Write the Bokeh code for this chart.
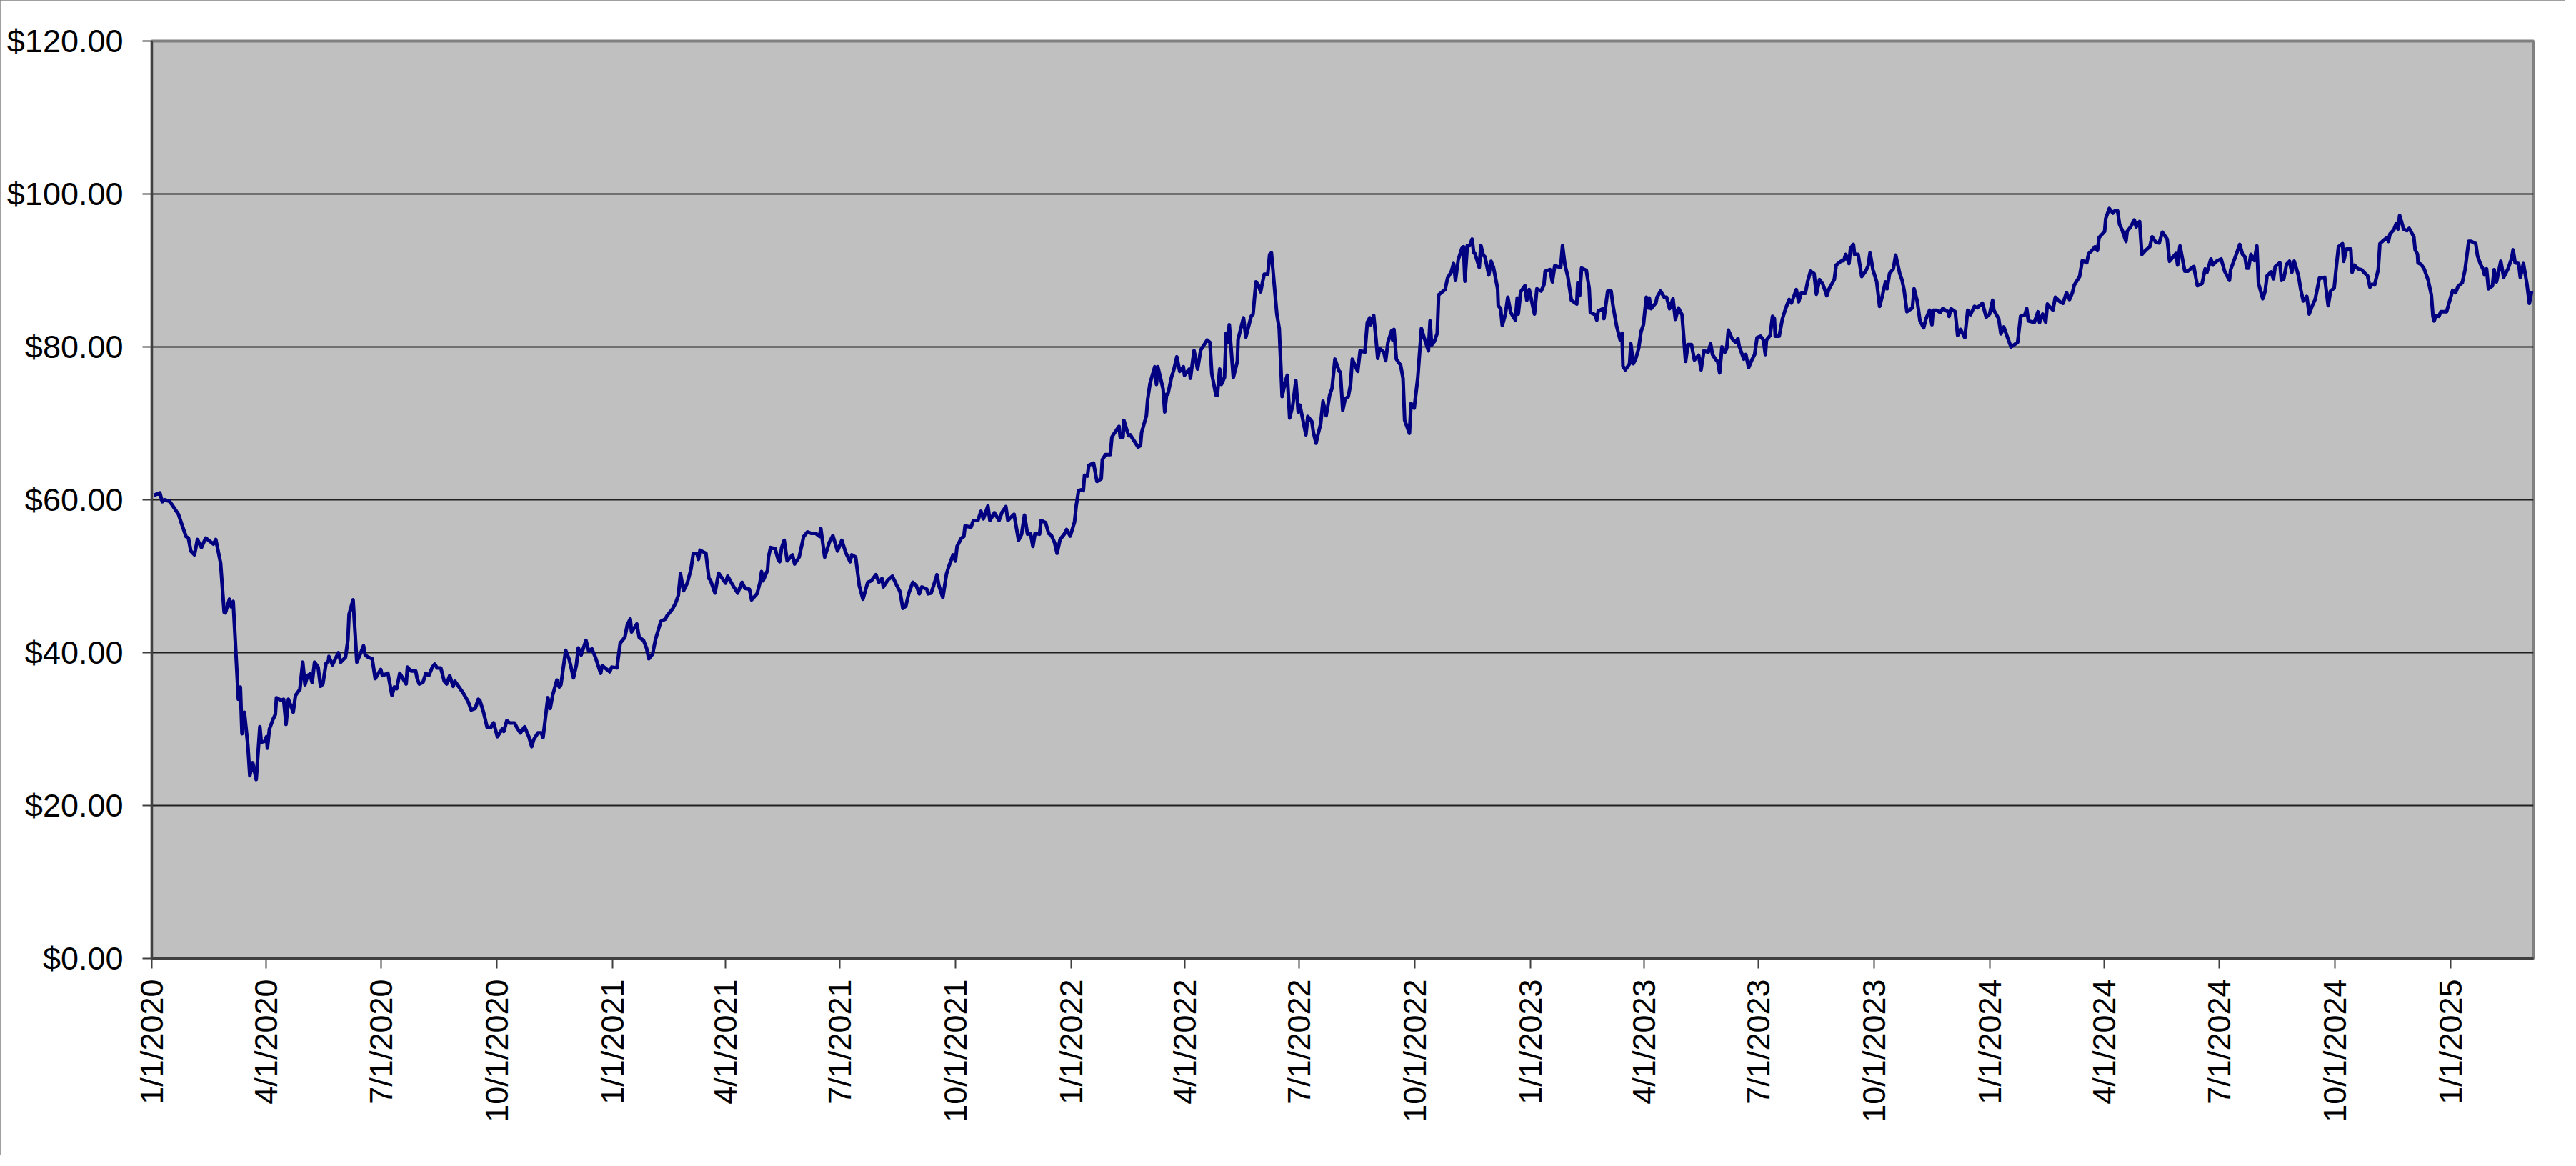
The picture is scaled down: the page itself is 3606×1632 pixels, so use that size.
import math
import pandas as pd
from bokeh.plotting import figure
from bokeh.models import FixedTicker, NumeralTickFormatter, Range1d, ColumnDataSource
from bokeh.embed import file_html
from bokeh.resources import INLINE

# ---------------- data (day offset from START, price in $) ----------------
START = "2020-01-01"
END_DAY = 1893

prices_2020_h1 = [
    (1.7, 60.6), (6.4, 60.9), (8.3, 59.75), (10.2, 60), (14, 59.8), (15.9, 59.4), (21.2, 58.1),
    (23.4, 57), (27.2, 55.2), (29.1, 55), (31, 53.3), (33.9, 52.8), (36.3, 54.8), (39.5, 53.75),
    (42.8, 55), (49, 54.2), (50.9, 54.8), (54.7, 51.7), (57.5, 45.3), (58.5, 45.2), (61.7, 47),
    (63, 46), (64.7, 46.7), (68.8, 33.9), (70.4, 35.5), (71.7, 29.4), (73.6, 32.2), (76.4, 27.8),
    (77.9, 23.9), (80.2, 25.6), (83, 23.4), (85.9, 30.3), (87, 28.3), (89.7, 28.4), (91.2, 29),
    (91.9, 27.5), (93.5, 30), (96.3, 31.25), (98.2, 31.9), (99.1, 34.1), (102.9, 33.75),
    (104.8, 33.9), (106.7, 30.6), (108.6, 33.9), (112.4, 32.2), (114.2, 34.4), (117.7, 35.2),
    (120, 38.75), (121.8, 35.8), (123.8, 37), (125.6, 37.2), (127.5, 36.1), (129.4, 38.75),
    (132.2, 38.1), (134.1, 35.6), (136, 35.9), (138.5, 38.6), (140.4, 38.9), (140.8, 39.5),
    (143.6, 38.4), (148.3, 40), (150.2, 38.75), (154, 39.4), (155.9, 41.7), (156.8, 45),
    (160, 46.9), (163, 38.75), (165.7, 39.8), (168.3, 40.9), (169.6, 39.7), (172, 39.4),
    (175.2, 39.2),
]

prices_2020_h2 = [
    (177.6, 36.6), (182, 37.8), (183.3, 37), (187.7, 37.3), (190.9, 34.4), (192.8, 35.5),
    (194.7, 35.3), (197.1, 37.3), (202.2, 35.9), (203.2, 38.1), (206, 37.6), (209.8, 37.6),
    (210.8, 36.7), (212.6, 35.9), (215.5, 36.1), (217.9, 37.3), (220.2, 37), (223, 38.1),
    (224.9, 38.5), (226.8, 38), (229.7, 38), (232.5, 36.25), (234.4, 35.9), (236.8, 37),
    (239.5, 35.6), (241, 36.25), (247.6, 34.7), (251.4, 33.6), (253.9, 32.5), (257.1, 32.7),
    (259.5, 33.9), (260.8, 33.75), (263.7, 32.2), (266.6, 30.2), (269.4, 30.2), (271.7, 30.8),
    (274.7, 29), (278.5, 30), (279.8, 29.7), (282.2, 31.1), (284.5, 30.8), (288.3, 30.8),
    (290.2, 30.2), (293, 29.5), (296.3, 30.3), (299.7, 29), (302, 27.7), (303.5, 28.6),
    (306.9, 29.5), (309.6, 29.5), (311, 28.9), (314.8, 34.1), (316.7, 32.7), (318.6, 34.4),
    (322, 36.4), (323.9, 35.5), (325.2, 35.8), (329, 40.3), (331.8, 39.1), (335.2, 36.7),
    (337.5, 38.4), (339, 40.6), (341.3, 39.7), (345.1, 41.6), (347.3, 40.2), (349.8, 40.5),
    (352.6, 39.4), (356.8, 37.3), (358, 38.3), (364, 37.5), (365.5, 38.1), (369.7, 38),
]

prices_2021 = [
    (372.3, 41.25), (376, 42), (377.9, 43.6), (380.3, 44.4), (381.3, 42.7), (385.5, 43.75),
    (387.4, 42), (390.8, 41.6), (393.2, 40.6), (395, 39.2), (398, 39.8), (400.3, 41.7),
    (404.6, 44.1), (408.2, 44.4), (409.4, 44.8), (414.2, 45.8), (416.6, 46.6), (418.5, 47.5),
    (420.2, 50.3), (422.6, 48.1), (425.6, 49.1), (428.5, 50.9), (430.4, 53), (433.3, 53),
    (434.5, 52.2), (435.7, 53.4), (440.4, 53), (442.8, 49.7), (444, 49.5), (447.6, 47.8),
    (450.5, 50.4), (456, 49.1), (457.7, 50), (462, 48.75), (465.6, 47.8), (469.1, 49.2),
    (471.5, 48.4), (475, 48.3), (476.7, 46.9), (481, 47.7), (483.4, 49.2), (484.6, 50.6),
    (485.8, 49.4), (489.4, 50.8), (490.1, 52.5), (491.8, 53.75), (495.4, 53.6), (497.8, 52.2),
    (499, 51.9), (500.6, 53.75), (502.6, 54.7), (505, 52), (509.2, 52.8), (510.9, 51.6),
    (514.5, 52.5), (518.1, 55.2), (521.2, 55.8), (524, 55.6), (527.6, 55.6), (530.7, 55.2),
    (531.7, 56.25), (534.8, 52.5), (538.4, 54.4), (541.3, 55.3), (545, 53.3), (548.4, 54.7),
    (551.5, 53.1), (555, 51.9), (556.3, 52.8), (559.4, 52.5), (562.3, 48.75), (565.2, 47),
    (569, 49.2), (571.8, 49.4), (575.5, 50.2), (577.9, 49.2), (580.3, 49.7), (581.4, 48.6),
    (585, 49.5), (588.6, 50), (592.2, 48.75), (594.6, 48), (596.9, 45.8), (599.3, 46.1),
    (601.7, 47.8), (604.8, 49.2), (607.6, 48.75), (610, 47.7), (612, 48.6), (616, 48.3),
    (617, 47.7), (619.4, 47.8), (622, 49.1), (624, 50.2), (625.6, 48.75), (628.7, 47.2),
    (631.6, 50.3), (633.4, 51.25), (636.8, 52.8), (638.7, 52), (640, 53.9), (643.5, 55),
    (645.4, 55.2), (646.4, 56.6), (651, 56.4), (653, 57.3), (656.6, 57.3), (659, 58.5),
    (660.9, 57.5), (664.5, 59.2), (666.1, 57.3), (669.7, 58.3), (673.4, 57.3), (675.8, 58.4),
    (678.8, 59.1), (680.4, 57.3), (685.3, 58.1), (688.9, 54.7), (691.3, 55.5), (693.6, 58),
    (696, 55.5), (698.4, 55.6), (700.3, 53.9), (702, 55.6), (705.6, 55.5), (706.8, 57.3),
    (710.4, 57), (712.8, 55.6), (715.1, 55.3), (717.5, 54.4), (719.5, 53), (721.9, 54.8),
    (725.2, 55.5), (727.1, 56.1),
]

prices_2022 = [
    (730, 55.25), (733.4, 57.1), (734.7, 59.2), (736.6, 61.2), (738.5, 61.3), (740.4, 61.2),
    (741.3, 63.2), (743.6, 63.1), (744.7, 64.5), (748.5, 64.8), (751.2, 62.4), (754.6, 62.75),
    (755.5, 65.25), (758, 65.9), (761.8, 65.9), (763.1, 68.2), (765, 68.7), (768.8, 69.6),
    (769.7, 68.2), (772, 68.2), (772.6, 70.4), (776.3, 68.4), (777.7, 68.5), (783.9, 66.9),
    (785.8, 67.1), (786.7, 68.8), (790.5, 71), (791.5, 73.1), (793.4, 75.25), (797.2, 77.4),
    (798.5, 75.1), (799.6, 77.4), (803.8, 74.5), (805.1, 71.5), (806.6, 73.8), (807.6, 73.8),
    (810.4, 76), (812.3, 77), (814.7, 78.7), (817, 76.8), (819.9, 77.4), (820.8, 76.3),
    (824.6, 77.1), (825.5, 75.9), (828.4, 79.5), (831.2, 77.1), (833.7, 79.6), (836.9, 80.4),
    (838.8, 80.9), (841, 80.6), (842.5, 76.5), (845.8, 73.7), (846.9, 73.7), (848.8, 77.1),
    (850.1, 75.1), (852.6, 76), (853.9, 81.8), (855.2, 80.6), (856.4, 82.9), (859.6, 76),
    (862.8, 78.1), (863.4, 81), (867.7, 83.8), (869.6, 81.3), (873.8, 84), (875.3, 84.3),
    (877.6, 88.5), (879.4, 88.1), (881.3, 87.2), (882.9, 88.5), (884.2, 89.5), (887, 89.5),
    (888.5, 92.1), (889.9, 92.3), (894.2, 84.3), (896.1, 82.4), (898.4, 73.5), (900.6, 75.25),
    (902.5, 76.3), (904.4, 70.7), (906.9, 72.4), (909.3, 75.6), (911.2, 71.5), (912.5, 72.4),
    (917.3, 68.5), (918.8, 70.9), (922, 70.25), (923.3, 68.8), (925.4, 67.4), (926.7, 68.4),
    (929, 69.9), (930.9, 72.9), (933.4, 71), (936.2, 73.7), (938.1, 74.6), (940.4, 78.4),
    (943.8, 76.8), (944.7, 76.7), (946.6, 71.7), (948.5, 73.2), (951, 73.5), (952.8, 75.1),
    (954.2, 78.4), (958.5, 76.8), (960.4, 79.5), (964.2, 79.3), (966.1, 83.2), (968, 83.8),
    (968.7, 82.9), (971.2, 84.1), (973.1, 80.9), (974.4, 78.5), (975.9, 79.8), (979.3, 79.3),
    (980.7, 78.2), (982.5, 80.6), (985.4, 82.1), (986.3, 80.9), (987.3, 82.3), (989.2, 78.4),
    (992.6, 77.6), (994.5, 75.9), (995.8, 70.4), (999.6, 68.7), (1000.9, 72.6), (1003.4, 72),
    (1006.2, 75.9), (1009.1, 82.4), (1011.9, 80.9), (1014.7, 79.5), (1016, 83.4),
    (1017.2, 80.25), (1019.4, 80.7), (1021.7, 81.8), (1022.8, 86.8),
]

prices_2023 = [
    (1024.2, 87), (1028, 87.5), (1029.9, 89), (1032.8, 89.8), (1034.7, 90.9), (1036.2, 88.7),
    (1038.4, 91.4), (1041.3, 92.9), (1042.6, 93.1), (1043.7, 88.6), (1045.6, 93.25),
    (1047.5, 93.25), (1049.4, 94.1), (1050.7, 92.3), (1051.7, 92.2), (1055.1, 90.4),
    (1056.4, 93.25), (1058.3, 92), (1059.6, 91.8), (1062.7, 89.4), (1064.5, 91.2),
    (1066.4, 90.4), (1069.7, 87.6), (1070.2, 85.4), (1072.1, 85), (1073.4, 82.8),
    (1075.9, 84.3), (1077.8, 86.5), (1080.1, 84.5), (1083.8, 83.5), (1085.3, 86.4),
    (1086.1, 84.3), (1088, 87.2), (1091.4, 88), (1092.9, 86.1), (1094.8, 87.5), (1099, 84.3),
    (1100.9, 87.6), (1104.3, 87.3), (1106.5, 88.1), (1107.5, 89.9), (1111.3, 90.1),
    (1113.2, 88.5), (1115.1, 90.6), (1119.8, 90.4), (1121.3, 93.25), (1123.2, 90.75),
    (1125.5, 89.2), (1128.3, 86.1), (1132.6, 85.6), (1133.4, 88.4), (1134.9, 86.7),
    (1136.4, 90.3), (1140.2, 90), (1142.5, 87.6), (1143.4, 84.5), (1147.2, 84.2),
    (1148.5, 83.5), (1149.7, 84.7), (1153.5, 85), (1154.2, 83.7), (1157.2, 87.3),
    (1159.9, 87.3), (1161.4, 85.4), (1164.2, 82.8), (1167.1, 80.9), (1168.6, 81.8),
    (1169.3, 77.5), (1171.2, 77), (1174.6, 77.8), (1175.6, 80.4), (1177.5, 77.8),
    (1179.4, 78.4), (1181.8, 79.8), (1183.7, 82), (1185.6, 82.9), (1187.9, 86.5),
    (1189.4, 85.1), (1190.2, 86.4), (1191.7, 85), (1195.5, 85.75), (1196.4, 86.5),
    (1199.2, 87.3), (1202.1, 86.5), (1204, 86.5), (1206.4, 85), (1209.1, 86.3), (1211, 83.6),
    (1213.4, 85.1), (1216.3, 84.2), (1219.1, 78.1), (1221, 80.3), (1223.8, 80.3),
    (1226.1, 78.3), (1229.5, 78.9), (1231.4, 77), (1233.7, 79.5), (1237.1, 79.3),
    (1239, 80.4), (1240.5, 79), (1242.8, 78.4), (1244.6, 78.1), (1246.2, 76.6), (1248, 80),
    (1250.3, 79.3), (1251.8, 79.8), (1253.1, 82.2), (1256, 81.1), (1258.8, 80.6),
    (1260.7, 81.1), (1261.7, 80.1), (1265.4, 78.4), (1267, 79), (1269.2, 77.3),
    (1272.1, 78.4), (1274, 79), (1275.9, 81.2), (1278.7, 81.4), (1281, 80.9), (1282.5, 79),
    (1283.4, 80.9), (1286.3, 81.5), (1288.2, 84), (1289.7, 83.7), (1290.4, 81.4),
    (1293.5, 81.4), (1296.1, 83.7), (1298.6, 85), (1301.4, 86.2), (1303.3, 85.75),
    (1307.1, 87.5), (1309, 85.9), (1310.9, 87), (1314.3, 87), (1316.2, 88.6),
    (1318.4, 89.9), (1321.2, 89.6), (1323.1, 86.9), (1325.6, 88.8), (1328.2, 88.2),
    (1331.3, 86.7), (1333.2, 87.6), (1337.3, 88.8), (1338.8, 90.7), (1342.6, 91.2),
    (1344.9, 91.3), (1346.4, 92.1), (1349, 90.9), (1350.2, 92.9), (1352.5, 93.4),
    (1353.4, 92.1), (1356.2, 92.1), (1359.1, 89.2), (1362.3, 89.9), (1364.2, 90.6),
    (1365.7, 92.3), (1368, 90.1), (1371, 88.5), (1373.3, 85.3), (1375.5, 86.7), (1378, 88.5),
    (1379.3, 87.6), (1381.2, 89.6), (1384.2, 90.2), (1386.1, 92), (1389.3, 89.6),
    (1391.2, 88.7), (1392.8, 87.4), (1395, 84.6), (1399.4, 85.1), (1400.7, 87.6),
    (1403.2, 86), (1405.4, 83.4), (1408.3, 82.5), (1410.2, 83.7), (1413, 84.8),
    (1414.9, 82.9), (1415.8, 84.8), (1418.7, 84.8), (1421.5, 84.5), (1423.4, 85),
    (1427.7, 84.6), (1428.5, 84), (1430, 85), (1433.4, 84.6), (1435.3, 81.5), (1437.6, 82.3),
    (1441, 81.2), (1443.3, 84.8), (1445.5, 84.2), (1448.6, 85.3), (1450.8, 85.1),
    (1455, 85.7), (1458, 83.9),
]

prices_2024 = [
    (1460.7, 84.3), (1463.1, 86.1), (1464.1, 84.8), (1467.9, 83.7), (1469.7, 81.7),
    (1472, 82.6), (1475, 81.2), (1477.7, 80), (1483, 80.6), (1485.3, 84), (1488.7, 84.2),
    (1490.2, 85), (1491.5, 83.4), (1496.2, 83.2), (1499.1, 84.6), (1500.4, 83.2),
    (1502.9, 84.3), (1505.3, 83.2), (1506.6, 85.6), (1511, 84.8), (1512.9, 86.5),
    (1516.7, 85.9), (1519, 85.7), (1521.8, 87.1), (1524.2, 86.2), (1526.5, 87.1),
    (1528, 88.1), (1532.2, 89.2), (1534.4, 91.3), (1537.9, 91), (1539.4, 92.2), (1542, 92.6),
    (1544.5, 93.1), (1546.4, 92.6), (1547.7, 94.3), (1552.1, 95.1), (1553, 96.8),
    (1555.8, 98.1), (1558.7, 97.5), (1560.2, 97.8), (1562.4, 97.8), (1564, 96),
    (1566.2, 95.2), (1569.1, 93.8), (1570, 95.1), (1572.8, 95.7), (1575.7, 96.6),
    (1577.2, 95.7), (1579.9, 96.4), (1581.7, 92.1), (1585.1, 92.7), (1588, 93.1),
    (1589.9, 94.4), (1592.7, 93.7), (1595.5, 93.6), (1598, 95), (1601.8, 94.1),
    (1603.7, 91.2), (1608.8, 92.2), (1610.1, 90.7), (1612, 93.2), (1615.8, 89.9),
    (1618.2, 89.9), (1621, 90.3), (1623, 90.5), (1625.8, 88), (1629.6, 88.3), (1632, 90.2),
    (1633.4, 89.75), (1636.6, 91.5), (1638.1, 90.7), (1640.9, 91.2), (1644.7, 91.5),
    (1647.5, 89.9), (1651.3, 88.7), (1652.3, 90.1), (1657.4, 92.4), (1659.5, 93.4),
    (1661.7, 92.1), (1663.6, 91.8), (1665, 90.3), (1666.5, 90.3), (1668.4, 92.1),
    (1669.9, 91.6), (1671.2, 91.3), (1673.1, 93.2), (1674.4, 88.3), (1677.8, 86.3),
    (1679.7, 87.3), (1681.2, 89.3), (1684.4, 89.8), (1686.3, 88.9), (1687.7, 90.5),
    (1691.4, 91), (1692.6, 88.7), (1694.5, 88.9), (1696.7, 90.8), (1699, 91.2),
    (1700.9, 89.75), (1702.8, 91.2), (1706.2, 89.3), (1708.1, 87.4), (1710, 86),
    (1712.8, 86.6), (1714.7, 84.3), (1717.2, 85.4), (1719.4, 86.2), (1721.3, 87.7),
    (1722.8, 89), (1725.1, 89), (1727, 89.1), (1729.8, 85.4), (1731.7, 87.3), (1734.6, 87.7),
    (1736.1, 90.2), (1738, 93.1), (1741.2, 93.5), (1742.1, 91.2), (1744.4, 92.8),
    (1747.8, 92.8), (1748.8, 89.75), (1750.7, 90.7), (1753.5, 90.2), (1756.3, 90.1),
    (1758.2, 89.75), (1761.1, 89.3), (1763, 87.8), (1764.8, 88.2), (1766.7, 88.1),
    (1769.6, 90.1), (1770.9, 93.5), (1774.3, 94), (1776.6, 94.3), (1777.7, 93.8),
    (1779, 94.8), (1781.9, 95.3), (1783.8, 96.1), (1785.3, 95.4), (1786.6, 97.2),
    (1789.8, 95.4), (1792.3, 95.2), (1794.2, 95.5), (1797.9, 94.4), (1798.9, 92.7),
    (1800.8, 92.1), (1801.2, 91), (1803.6, 90.8), (1806.1, 90.2), (1809.3, 88.7),
    (1811.8, 86.8), (1813.1, 84), (1814, 83.4), (1815.5, 84.1), (1817.8, 84),
    (1819.3, 84.6), (1823.9, 84.6), (1825.8, 85.7),
]

prices_2025 = [
    (1828.8, 87.4), (1831.1, 87.1), (1833, 87.9), (1836.4, 88.4), (1838.6, 90.1),
    (1841.5, 93.8), (1843.4, 93.8), (1847.1, 93.5), (1848.5, 91.9), (1850.9, 90.8),
    (1852.8, 90.2), (1854.1, 89.4), (1855.7, 90.2), (1857.2, 87.6), (1860.4, 88),
    (1861.7, 90.1), (1863.6, 88.5), (1867, 91.2), (1869.3, 89.1), (1872.7, 90.2),
    (1875.5, 91.5), (1876.8, 92.7), (1878.4, 91), (1881.2, 90.9), (1882.5, 89.1),
    (1885, 90.9), (1887.8, 88.2), (1889.7, 85.7), (1891.6, 87.3),
]

x_tick_labels = [
    "1/1/2020", "4/1/2020", "7/1/2020", "10/1/2020",
    "1/1/2021", "4/1/2021", "7/1/2021", "10/1/2021",
    "1/1/2022", "4/1/2022", "7/1/2022", "10/1/2022",
    "1/1/2023", "4/1/2023", "7/1/2023", "10/1/2023",
    "1/1/2024", "4/1/2024", "7/1/2024", "10/1/2024",
    "1/1/2025",
]
y_ticks = [0, 20, 40, 60, 80, 100, 120]

# ---------------- build ----------------
points = (prices_2020_h1 + prices_2020_h2 + prices_2021 + prices_2022
          + prices_2023 + prices_2024 + prices_2025)
t0 = pd.Timestamp(START)
dates = [t0 + pd.Timedelta(days=d) for d, _ in points]
values = [v for _, v in points]
src = ColumnDataSource(data=dict(date=dates, price=values))

tick_ms = [float(pd.to_datetime(s, format="%m/%d/%Y").value // 10**6) for s in x_tick_labels]

FONT = "Liberation Sans"
FONT_SIZE = "45px"

p = figure(
    width=3590, height=1616,
    x_axis_type="datetime",
    output_backend="svg", toolbar_location=None, title=None,
    x_range=Range1d(t0, t0 + pd.Timedelta(days=END_DAY)),
    y_range=Range1d(y_ticks[0], y_ticks[-1]),
    min_border_left=212, min_border_right=44, min_border_top=57, min_border_bottom=275,
)
p.styles = {"outline": "2px solid #7f7f7f", "outline-offset": "-2px"}

p.background_fill_color = "#C0C0C0"
p.border_fill_color = "#FFFFFF"
p.outline_line_color = "#808080"
p.outline_line_width = 4

# grid
p.xgrid.visible = False
p.ygrid.ticker = FixedTicker(ticks=y_ticks[1:-1])
p.ygrid.grid_line_color = "#202020"
p.ygrid.grid_line_width = 2

# y axis
p.yaxis.ticker = FixedTicker(ticks=y_ticks)
p.yaxis.formatter = NumeralTickFormatter(format="$0.00")
p.yaxis.minor_tick_line_color = None
p.yaxis.major_tick_out = 13
p.yaxis.major_tick_in = 0
p.yaxis.major_tick_line_color = "#404040"
p.yaxis.major_tick_line_width = 2
p.yaxis.axis_line_color = "#404040"
p.yaxis.axis_line_width = 3
p.yaxis.major_label_standoff = 27
p.yaxis.major_label_text_font = FONT
p.yaxis.major_label_text_font_size = FONT_SIZE
p.yaxis.major_label_text_color = "#000000"

# x axis
p.xaxis.ticker = FixedTicker(ticks=tick_ms)
p.xaxis.major_label_overrides = {ms: lab for ms, lab in zip(tick_ms, x_tick_labels)}
p.xaxis.minor_tick_line_color = None
p.xaxis.major_tick_out = 14
p.xaxis.major_tick_in = 0
p.xaxis.major_tick_line_color = "#404040"
p.xaxis.major_tick_line_width = 2
p.xaxis.axis_line_color = "#404040"
p.xaxis.axis_line_width = 3
p.xaxis.major_label_orientation = math.pi / 2
p.xaxis.major_label_standoff = 15
p.xaxis.major_label_text_font = FONT
p.xaxis.major_label_text_font_size = FONT_SIZE
p.xaxis.major_label_text_color = "#000000"

p.line("date", "price", source=src, line_color="#000080", line_width=5, line_join="round")

open("out.html", "w").write(file_html(p, INLINE))
